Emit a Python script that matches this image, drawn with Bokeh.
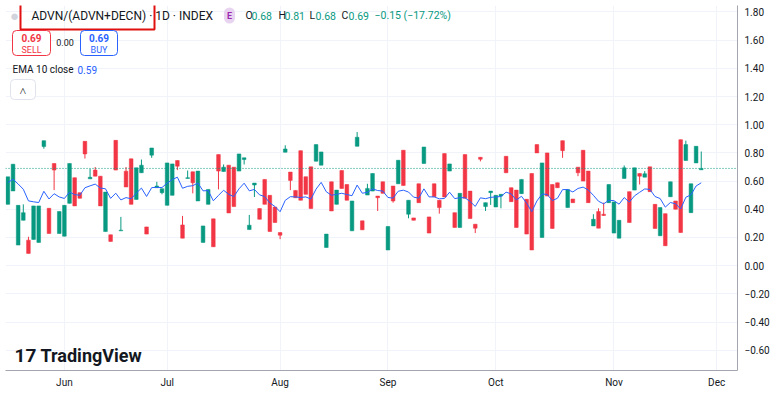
import numpy as np
from bokeh.plotting import figure
from bokeh.models import (Label, BoxAnnotation, Span, FixedTicker, CustomJSTickFormatter,
                          ColumnDataSource, Range1d)
from bokeh.embed import file_html
from bokeh.resources import INLINE

# ---------------- data ----------------
opens = [
    .435, .53, .146, .322, .181, .186, .165, .845, .407, .725,
    .228, .209, .442, .624, .518, .882, .616, .678, .635, .242,
    .219, .889, .247, .67, .758, .47, .659, .275, .784, .553,
    .518, .428, .499, .746, .289, .619, .666, .459, .165, .435,
    .332, .788, .668, .713, .699, .671, .753, .256, .572, .405,
    .612, .499, .416, .235, .805, .664, .534, .816, .631, .701,
    .741, .713, .129, .595, .435, .675, .576, .247, .847, .318,
    .501, .529, .494, .595, .111, .565, .581, .819, .365, .339,
    .581, .725, .346, .581, .464, .795, .671, .376, .271, .788,
    .529, .294, .769, .419, .518, .416, .494, .776, .553, .536,
    .511, .471, .654, .859, .20, .80, .576, .588, .887, .412,
    .473, .699, .819, .671, .282, .384, .365, .447, .231, .195,
    .619, .525, .536, .654, .628, .701, .435, .212, .369, .489,
    .459, .894, .746, .376, .729, .68]
closes = [
    .63, .72, .428, .376, .087, .424, .424, .887, .228, .678,
    .384, .428, .725, .424, .478, .793, .627, .635, .424, .522,
    .172, .678, .252, .558, .435, .694, .713, .224, .835, .565,
    .546, .729, .722, .706, .195, .624, .588, .671, .282, .541,
    .134, .671, .699, .374, .419, .793, .765, .287, .586, .329,
    .435, .242, .306, .216, .828, .605, .482, .464, .506, .405,
    .859, .807, .224, .388, .536, .548, .464, .459, .911, .254,
    .548, .654, .482, .513, .278, .459, .748, .569, .464, .322,
    .447, .842, .231, .489, .412, .487, .722, .271, .513, .478,
    .334, .266, .755, .447, .529, .499, .506, .659, .454, .271,
    .612, .224, .111, .80, .729, .494, .264, .553, .816, .541,
    .447, .659, .60, .447, .329, .266, .356, .576, .452, .322,
    .694, .306, .694, .635, .652, .525, .264, .412, .141, .595,
    .40, .235, .859, .581, .847, .69]
# wick ends beyond the body (None = no wick on that side)
wick_highs = [
    None, None, None, .435, .205, None, None, None, None, None,
    None, None, None, None, None, None, .687, .70, None, None,
    None, None, .346, .70, None, None, .753, None, None, .595,
    None, None, None, None, .353, .675, None, None, None, None,
    None, None, .718, None, None, None, None, .36, None, None,
    None, None, None, None, .854, None, None, None, None, None,
    None, None, None, None, None, None, None, None, .948, None,
    .581, None, None, None, None, None, None, None, None, None,
    None, None, None, None, None, None, None, None, None, None,
    None, None, None, None, None, None, None, None, None, None,
    None, None, None, None, None, None, None, None, None, None,
    None, None, None, None, .365, .407, .447, None, None, None,
    .711, None, None, None, .671, None, None, None, None, None,
    None, None, .887, None, None, .81]
wick_lows = [
    None, None, None, None, None, None, None, .83, None, .536,
    None, None, None, None, None, .76, None, None, None, None,
    None, None, None, None, None, None, None, None, .765, None,
    .506, None, None, .678, None, None, .513, None, None, None,
    None, .541, None, None, None, None, .718, None, .487, None,
    None, None, None, .188, None, .536, None, None, None, None,
    None, None, None, None, None, None, None, None, None, None,
    None, None, .388, None, None, .447, None, None, .336, None,
    None, None, None, None, .369, None, None, None, None, None,
    None, .231, .74, .388, .431, None, .407, None, None, None,
    None, None, None, None, None, None, None, None, .765, None,
    None, .635, None, None, None, None, .353, None, None, None,
    None, None, None, .576, None, None, None, None, None, None,
    None, None, None, None, None, .68]
ema_seed = 0.58          # EMA value before the first visible bar
ema_len = 10

month_labels = ["Jun", "Jul", "Aug", "Sep", "Oct", "Nov", "Dec"]
month_bar = [11, 31, 53, 74, 95, 118, 138]     # bar index where each month starts
y_ticks = [-0.6, -0.4, -0.2, 0.0, 0.2, 0.4, 0.6, 0.8, 1.0, 1.2, 1.4, 1.6, 1.8]

# ---------------- derived ----------------
n = len(opens)
idx = list(range(n))
highs = [h if h is not None else max(o, c) for h, o, c in zip(wick_highs, opens, closes)]
lows = [l if l is not None else min(o, c) for l, o, c in zip(wick_lows, opens, closes)]
UP, DOWN = "#089981", "#f23645"
colors = [UP if c >= o else DOWN for o, c in zip(opens, closes)]
alpha = 2.0 / (ema_len + 1)
ema = []
e = ema_seed
for c in closes:
    e = e + alpha * (c - e)
    ema.append(e)

src = ColumnDataSource(dict(x=idx, o=opens, c=closes, h=highs, l=lows, color=colors,
                            top=[max(o, c) for o, c in zip(opens, closes)],
                            bot=[min(o, c) for o, c in zip(opens, closes)]))

FONT = "Roboto"
TXT = "#131722"

# frame: x 5..738, y 5..372 inside a 772x390 canvas
p = figure(width=772, height=390, x_range=Range1d(-0.467, 142.06), y_range=Range1d(-0.744, 1.846),
           y_axis_location="right", output_backend="svg", toolbar_location=None,
           min_border_left=5, min_border_top=5, min_border_right=34, min_border_bottom=18)
p.outline_line_color = None
p.background_fill_color = "white"
p.border_fill_color = "white"

# grids
p.xgrid.ticker = FixedTicker(ticks=month_bar)
p.ygrid.ticker = FixedTicker(ticks=y_ticks)
p.xgrid.grid_line_color = "#f0f3fa"
p.ygrid.grid_line_color = "#f0f3fa"

# axes
p.xaxis.ticker = FixedTicker(ticks=month_bar)
p.xaxis.major_label_overrides = {b: m for b, m in zip(month_bar, month_labels)}
p.yaxis.ticker = FixedTicker(ticks=y_ticks)
p.yaxis.formatter = CustomJSTickFormatter(
    code="return (tick < -1e-9 ? '\\u2212' : '') + Math.abs(tick).toFixed(2);")
for ax in (p.xaxis[0], p.yaxis[0]):
    ax.major_tick_line_color = None
    ax.minor_tick_line_color = None
    ax.major_tick_out = 0
    ax.major_tick_in = 0
    ax.minor_tick_out = 0
    ax.minor_tick_in = 0
    ax.axis_line_color = "#a3a6af"
    ax.major_label_text_font = FONT
    ax.major_label_text_font_size = "10px"
    ax.major_label_text_color = TXT
p.xaxis.major_label_standoff = 6
p.yaxis.major_label_standoff = 7

# candles
p.segment(x0="x", y0="l", x1="x", y1="h", color="color", line_width=1, source=src)
p.vbar(x="x", top="top", bottom="bot", width=0.72, fill_color="color", line_color="color",
       line_width=0.5, source=src)
# EMA
p.line(idx, ema, line_color="#2962ff", line_width=1)
# last-price dotted line
p.add_layout(Span(location=closes[-1], dimension="width", line_color=UP,
                  line_dash="1 2", line_width=1))

# ---------------- decorations (screen positions relative to the frame) ----------------
FL, FB = 5, 372   # frame left / bottom in canvas pixels


def px(X):
    return X - FL


def py(Y):
    return FB - Y


def lab(text, X, Y, size="11px", color=TXT, style="normal", align="left", font=FONT, **kw):
    p.add_layout(Label(x=px(X), y=py(Y), x_units="screen", y_units="screen", text=text,
                       text_font=font, text_font_size=size, text_color=color,
                       text_font_style=style, text_align=align, text_baseline="middle", **kw))


def box(l_, r_, t_, b_, color, width=1, radius=0, fill=None):
    p.add_layout(BoxAnnotation(left=px(l_), right=px(r_), top=py(t_), bottom=py(b_),
                               left_units="screen", right_units="screen", top_units="screen",
                               bottom_units="screen",
                               fill_color=fill if fill else "white",
                               fill_alpha=1 if fill else 0,
                               line_color=color, line_alpha=1, line_width=width,
                               border_radius=radius))


lab("\u25CF", 14, 17, size="15px", color="#d1d4dc", align="center")
box(20, 154, 5, 31, "#e01010", width=2)
lab("ADVN/(ADVN+DECN) \u00b7 1D \u00b7 INDEX", 31, 17, size="12px")
lab("E", 229, 17, size="9px", color="#9c27b0", style="bold", align="center",
    background_fill_color="#e8d4f0", border_radius=7, padding=3)
ohlc = [("O", 245, TXT), ("0.68", 251, UP), ("H", 278, TXT), ("0.81", 284, UP),
        ("L", 309, TXT), ("0.68", 315, UP), ("C", 341, TXT), ("0.69", 348, UP),
        ("\u22120.15 (\u221217.72%)", 374, UP)]
for t, X, col in ohlc:
    lab(t, X, 17, size="10.5px", color=col)

# sell / buy boxes
for l_, r_, col, txt in [(12, 50, DOWN, "SELL"), (80, 117, "#2962ff", "BUY")]:
    box(l_, r_, 32, 57, col, radius=4, fill="white")
    cx = (l_ + r_) / 2
    lab("%.2f" % closes[-1], cx, 39, size="10px", color=col, style="bold", align="center")
    lab(txt, cx, 51, size="9px", color=col, align="center")
lab("0.00", 64.5, 44, size="9px", align="center")

lab("EMA 10 close", 12, 71, size="10px")
lab("%.2f" % ema[-1], 77, 71, size="10px", color="#2962ff")

box(10, 35, 81, 101, "#e0e3eb", radius=4, fill="white")
lab("\u02c4", 22.5, 92, size="12px", align="center")

# TradingView watermark
lab("17", 14, 357, size="19px", style="bold")
lab("TradingView", 40, 357, size="18px", style="bold")

# last price badge on the price axis
p.add_layout(Label(x=px(741), y=closes[-1], x_units="screen", y_units="data",
                   text="%.2f" % closes[-1], text_font=FONT, text_font_size="10.5px",
                   text_color="white", text_baseline="middle", text_align="left",
                   background_fill_color=UP, padding=3))

open("out.html", "w").write(file_html(p, INLINE))
